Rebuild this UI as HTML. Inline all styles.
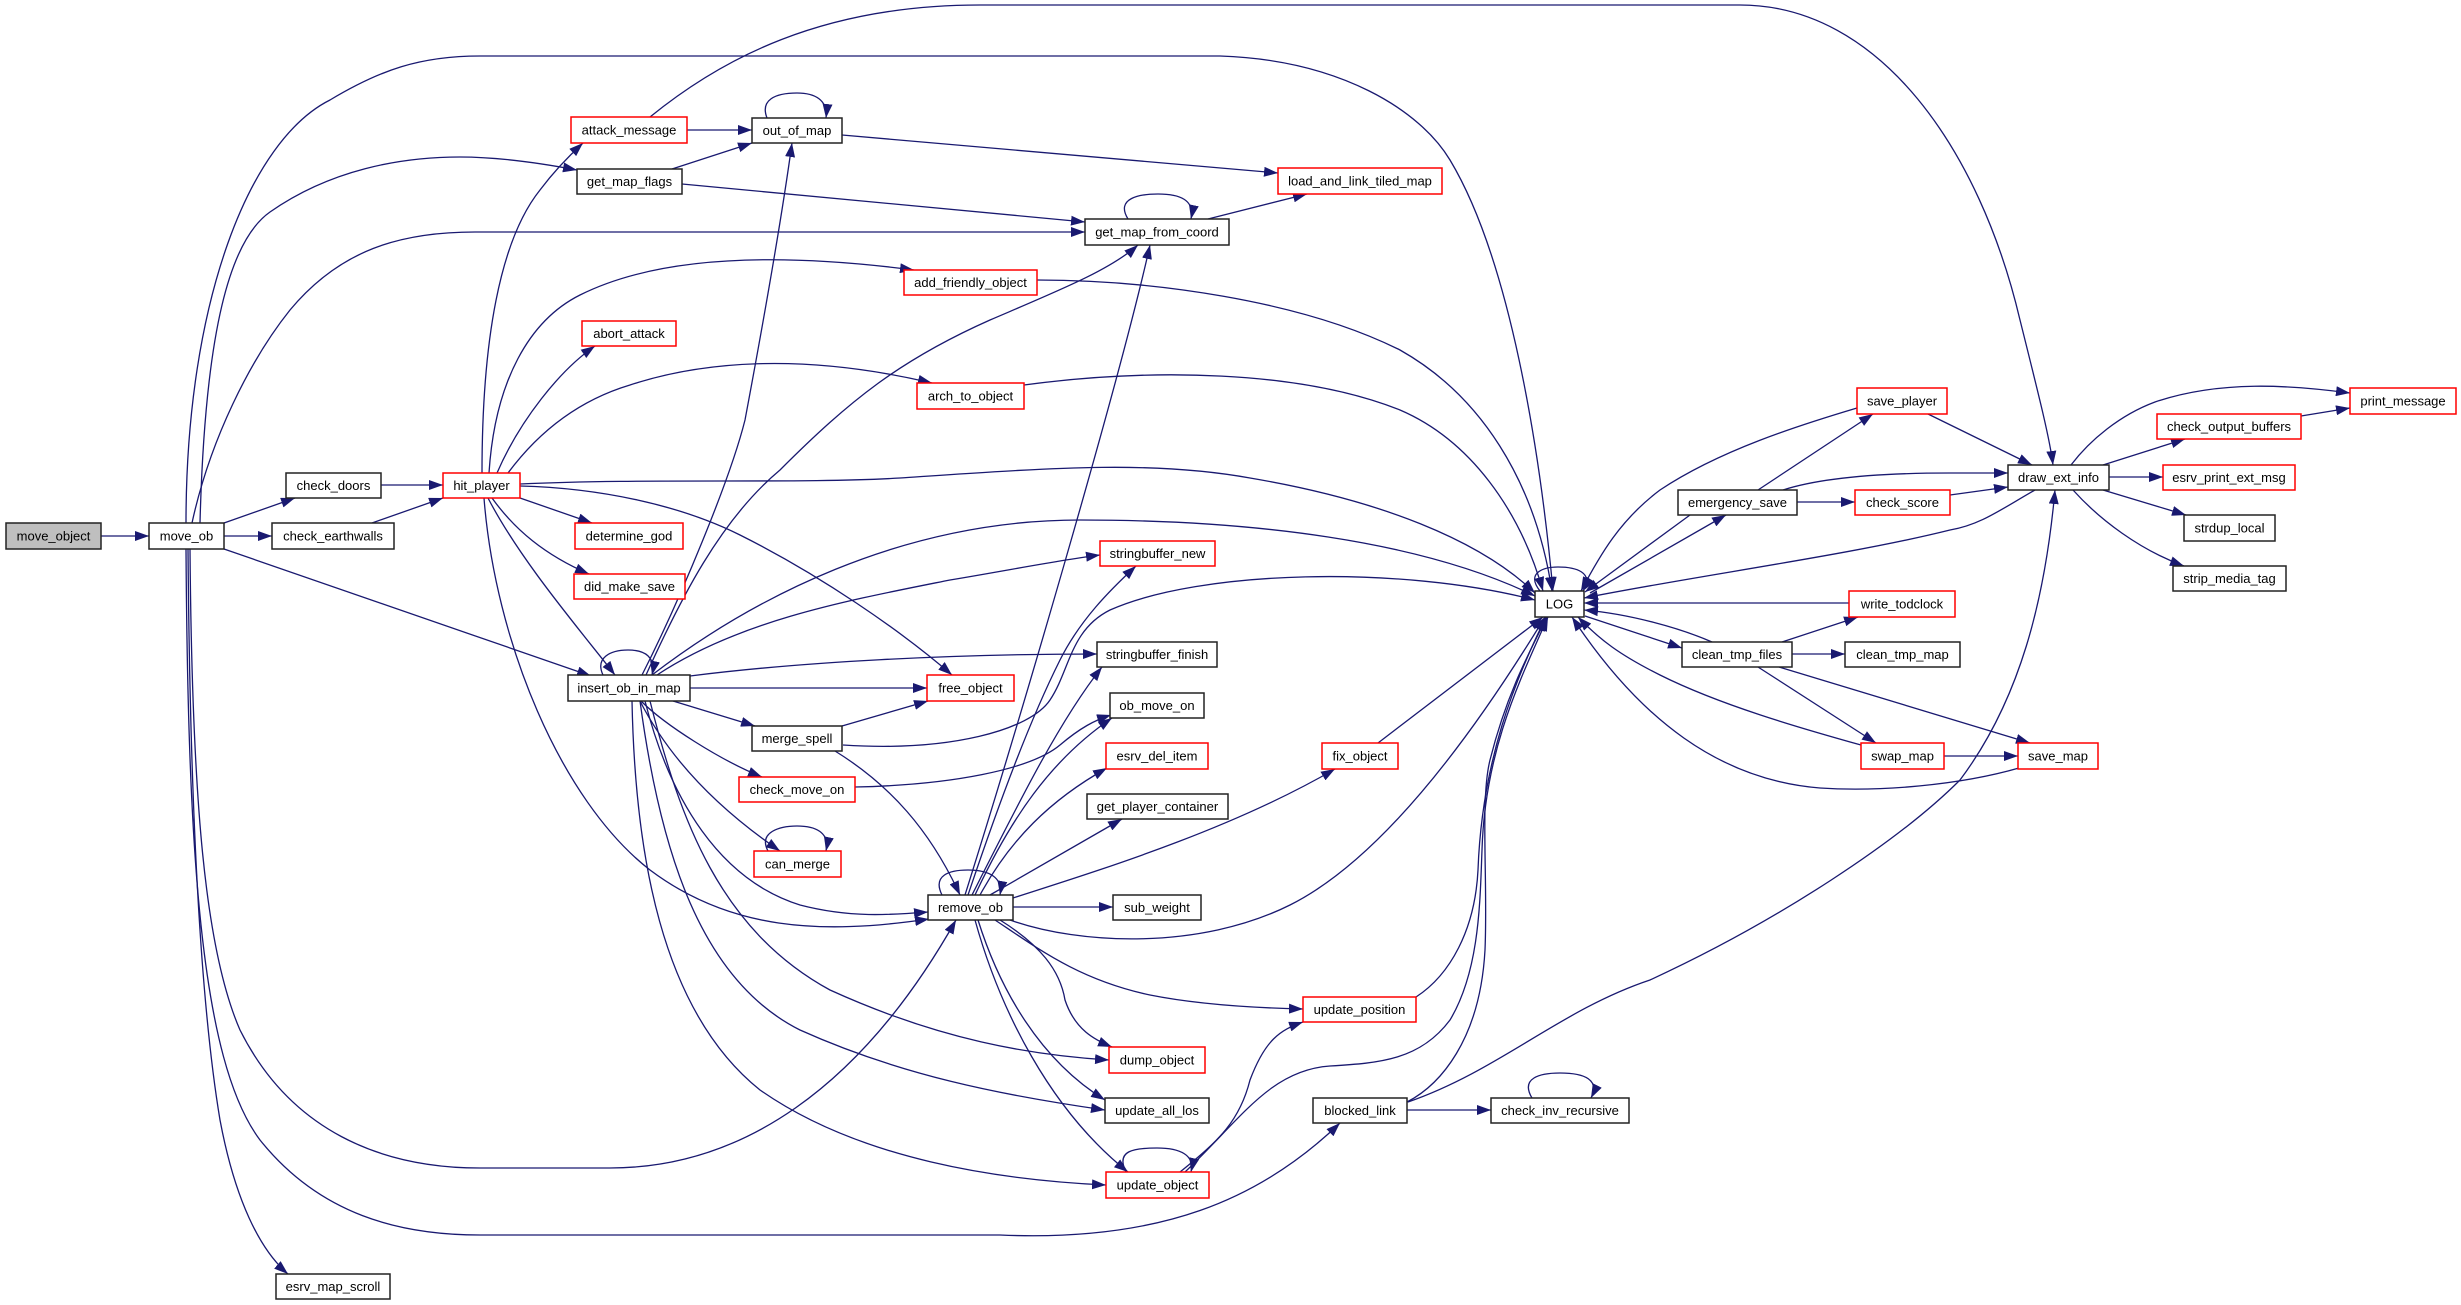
<!DOCTYPE html>
<html><head><meta charset="utf-8"><style>
html,body{margin:0;padding:0;background:#fff;}
svg{display:block;}
.e{fill:none;stroke:#191970;stroke-width:1.3;marker-end:url(#a);}
.n{fill:#fff;stroke:#222;stroke-width:1.5;}
.r{fill:#fff;stroke:#ff0000;stroke-width:1.5;}
.g{fill:#bfbfbf;stroke:#222;stroke-width:1.5;}
text{font-family:"Liberation Sans",Arial,sans-serif;font-size:13px;text-anchor:middle;fill:#000;}
</style></head><body>
<svg width="2461" height="1305" viewBox="0 0 2461 1305" xmlns="http://www.w3.org/2000/svg">
<defs>
<marker id="a" markerUnits="userSpaceOnUse" markerWidth="14" markerHeight="10" refX="14" refY="5" orient="auto">
<path d="M0,0 L14,5 L0,10 z" fill="#191970"/>
</marker>
</defs>
<g>
<path class="e" d="M101,536 L149,536"/>
<path class="e" d="M224,523 L295,498"/>
<path class="e" d="M224,536 L272,536"/>
<path class="e" d="M224,549 L591,676"/>
<path class="e" d="M188,549 C190,800 200,1000 220,1120 C235,1200 260,1250 288,1274"/>
<path class="e" d="M190,549 C192,800 205,950 240,1030 C290,1130 380,1168 480,1168 L610,1168 C740,1168 860,1090 956,920"/>
<path class="e" d="M186,549 C188,850 200,1060 260,1140 C320,1215 400,1235 480,1235 L1000,1235 C1160,1242 1260,1200 1340,1123"/>
<path class="e" d="M186,523 C186,300 250,140 330,100 C380,70 420,56 480,56 L1220,56 C1340,60 1420,110 1450,160 C1510,260 1540,450 1553,591"/>
<path class="e" d="M200,523 C205,330 230,240 270,212 C330,170 400,157 460,157 C500,157 540,163 577,170"/>
<path class="e" d="M192,523 C210,440 250,360 290,310 C340,250 400,232 475,232 L1085,232"/>
<path class="e" d="M381,485 L443,485"/>
<path class="e" d="M372,523 L443,498"/>
<path class="e" d="M482,473 C482,340 500,240 540,190 C555,170 570,155 583,143"/>
<path class="e" d="M497,473 C520,420 560,370 595,346"/>
<path class="e" d="M489,473 C495,380 530,320 580,295 C650,260 760,250 914,270"/>
<path class="e" d="M508,473 C540,430 580,400 630,385 C700,362 800,352 932,383"/>
<path class="e" d="M520,484 C650,478 800,484 900,478 C1050,468 1150,460 1250,478 C1380,500 1480,540 1535,593"/>
<path class="e" d="M520,486 C600,488 680,505 740,535 C820,575 900,630 952,675"/>
<path class="e" d="M520,498 L592,523"/>
<path class="e" d="M492,498 C515,530 545,555 589,574"/>
<path class="e" d="M488,498 C520,560 580,630 615,675"/>
<path class="e" d="M484,498 C495,640 560,800 650,870 C730,930 820,935 929,919"/>
<path class="e" d="M687,130 L752,130"/>
<path class="e" d="M650,117 C720,60 820,5 980,5 L1740,5 C1880,5 1980,150 2020,320 C2040,400 2050,440 2053,465"/>
<path class="e" d="M672,169 L752,143"/>
<path class="e" d="M682,184 L1085,222"/>
<path class="e" d="M767,118 C760,100 775,93 797,93 C815,93 828,100 826,118"/>
<path class="e" d="M842,135 L1278,173"/>
<path class="e" d="M1128,219 C1115,198 1140,194 1158,194 C1180,194 1195,200 1191,219"/>
<path class="e" d="M1208,219 L1307,194"/>
<path class="e" d="M1037,280 C1150,280 1300,300 1400,350 C1480,395 1535,480 1552,591"/>
<path class="e" d="M1024,385 C1150,368 1300,370 1400,410 C1470,440 1520,510 1543,591"/>
<path class="e" d="M603,675 C595,658 610,650 628,650 C645,650 656,657 652,675"/>
<path class="e" d="M642,675 C680,600 730,480 745,420 C760,340 780,230 792,143"/>
<path class="e" d="M646,675 C680,600 720,520 780,470 C850,400 900,360 990,320 C1060,290 1110,270 1138,245"/>
<path class="e" d="M652,675 C750,600 900,520 1080,520 C1250,520 1420,540 1535,596"/>
<path class="e" d="M657,675 C740,620 850,600 950,580 C1010,570 1060,560 1100,555"/>
<path class="e" d="M690,676 C800,662 950,654 1097,654"/>
<path class="e" d="M690,688 L927,688"/>
<path class="e" d="M673,701 L755,726"/>
<path class="e" d="M641,701 C665,725 720,760 762,777"/>
<path class="e" d="M640,701 C670,760 720,810 780,851"/>
<path class="e" d="M645,701 C670,800 720,880 800,905 C850,918 890,915 928,912"/>
<path class="e" d="M650,701 C680,820 720,930 830,990 C940,1040 1030,1055 1109,1060"/>
<path class="e" d="M640,701 C660,850 700,980 800,1030 C900,1075 1000,1095 1105,1110"/>
<path class="e" d="M632,701 C635,850 660,1010 760,1090 C860,1160 1000,1180 1106,1185"/>
<path class="e" d="M842,726 L928,701"/>
<path class="e" d="M843,745 C950,752 1030,730 1050,700 C1070,670 1070,630 1110,610 C1200,570 1400,565 1535,600"/>
<path class="e" d="M835,751 C890,785 930,830 960,895"/>
<path class="e" d="M855,787 C950,785 1030,770 1060,745 C1080,728 1095,720 1111,715"/>
<path class="e" d="M768,851 C758,832 780,826 797,826 C815,826 830,832 826,851"/>
<path class="e" d="M942,895 C932,875 950,870 968,870 C990,870 1003,878 1000,895"/>
<path class="e" d="M965,895 C1020,720 1120,380 1150,245"/>
<path class="e" d="M968,895 C1000,800 1030,720 1060,660 C1080,620 1110,590 1136,566"/>
<path class="e" d="M972,895 C1020,800 1060,720 1102,667"/>
<path class="e" d="M975,895 C1010,820 1050,760 1112,718"/>
<path class="e" d="M980,895 C1010,840 1050,800 1107,768"/>
<path class="e" d="M990,895 L1122,819"/>
<path class="e" d="M1013,898 C1100,870 1230,830 1335,769"/>
<path class="e" d="M1013,907 L1113,907"/>
<path class="e" d="M1010,920 C1080,945 1200,950 1290,905 C1380,860 1470,740 1545,617"/>
<path class="e" d="M995,920 C1040,950 1080,980 1150,995 C1200,1005 1260,1008 1303,1009"/>
<path class="e" d="M1000,920 C1040,945 1060,970 1065,1000 C1075,1030 1095,1040 1112,1047"/>
<path class="e" d="M978,920 C1000,990 1040,1060 1105,1100"/>
<path class="e" d="M975,920 C1000,1010 1050,1110 1128,1172"/>
<path class="e" d="M1126,1172 C1115,1150 1135,1148 1157,1148 C1180,1148 1195,1155 1191,1172"/>
<path class="e" d="M1180,1172 C1220,1140 1240,1120 1250,1080 C1265,1040 1280,1030 1303,1022"/>
<path class="e" d="M1185,1172 C1240,1120 1270,1070 1330,1066 C1380,1063 1420,1060 1450,1020 C1480,970 1480,900 1482,850 C1485,750 1520,680 1548,617"/>
<path class="e" d="M1416,997 C1450,975 1475,930 1478,870 C1482,760 1515,680 1546,617"/>
<path class="e" d="M1407,1102 C1440,1085 1480,1040 1485,950 C1488,880 1480,800 1490,760 C1505,700 1525,660 1547,617"/>
<path class="e" d="M1407,1110 L1491,1110"/>
<path class="e" d="M1408,1102 C1500,1070 1560,1010 1650,980 C1780,920 1900,840 1960,780 C2020,700 2045,600 2055,490"/>
<path class="e" d="M1532,1098 C1520,1078 1540,1073 1560,1073 C1585,1073 1600,1080 1591,1098"/>
<path class="e" d="M1378,743 L1543,617"/>
<path class="e" d="M1540,591 C1525,572 1545,567 1558,567 C1575,567 1595,572 1583,591"/>
<path class="e" d="M1590,593 L1726,515"/>
<path class="e" d="M1690,515 L1585,592"/>
<path class="e" d="M1585,616 L1682,648"/>
<path class="e" d="M1712,642 C1680,628 1630,614 1584,610"/>
<path class="e" d="M1857,408 C1800,425 1720,450 1660,490 C1620,520 1600,555 1581,591"/>
<path class="e" d="M1758,490 L1873,414"/>
<path class="e" d="M1783,490 C1820,478 1880,473 1950,473 C1980,473 1995,473 2008,473"/>
<path class="e" d="M1797,502 L1855,502"/>
<path class="e" d="M1950,495 L2008,487"/>
<path class="e" d="M1928,414 L2032,465"/>
<path class="e" d="M2035,490 C2000,510 1980,525 1950,530 C1850,555 1700,575 1584,598"/>
<path class="e" d="M1849,603 L1584,603"/>
<path class="e" d="M1782,642 L1858,617"/>
<path class="e" d="M1792,654 L1845,654"/>
<path class="e" d="M1758,667 L1876,743"/>
<path class="e" d="M1779,667 L2030,743"/>
<path class="e" d="M1944,756 L2018,756"/>
<path class="e" d="M1861,745 C1800,728 1720,705 1660,675 C1620,655 1600,640 1578,617"/>
<path class="e" d="M2019,768 C1960,785 1880,792 1820,788 C1720,780 1640,720 1572,617"/>
<path class="e" d="M2071,465 C2090,440 2120,415 2155,402 C2220,380 2290,385 2350,393"/>
<path class="e" d="M2103,465 L2185,439"/>
<path class="e" d="M2301,416 L2350,408"/>
<path class="e" d="M2109,477 L2163,477"/>
<path class="e" d="M2103,490 L2186,515"/>
<path class="e" d="M2073,490 C2100,520 2140,550 2184,566"/>
</g>
<g>
<rect class="g" x="6" y="523" width="95" height="26"/><text x="53.5" y="540.5">move_object</text>
<rect class="n" x="149" y="523" width="75" height="26"/><text x="186.5" y="540.5">move_ob</text>
<rect class="n" x="286" y="473" width="95" height="25"/><text x="333.5" y="490">check_doors</text>
<rect class="n" x="272" y="523" width="122" height="26"/><text x="333" y="540.5">check_earthwalls</text>
<rect class="r" x="443" y="473" width="77" height="25"/><text x="481.5" y="490">hit_player</text>
<rect class="r" x="575" y="523" width="108" height="26"/><text x="629" y="540.5">determine_god</text>
<rect class="r" x="574" y="574" width="111" height="25"/><text x="629.5" y="591">did_make_save</text>
<rect class="n" x="568" y="675" width="122" height="26"/><text x="629" y="692.5">insert_ob_in_map</text>
<rect class="r" x="571" y="117" width="116" height="26"/><text x="629" y="134.5">attack_message</text>
<rect class="n" x="577" y="169" width="105" height="25"/><text x="629.5" y="186">get_map_flags</text>
<rect class="r" x="582" y="321" width="94" height="25"/><text x="629" y="338">abort_attack</text>
<rect class="n" x="752" y="118" width="90" height="25"/><text x="797" y="135">out_of_map</text>
<rect class="n" x="1085" y="219" width="144" height="26"/><text x="1157" y="236.5">get_map_from_coord</text>
<rect class="r" x="1278" y="168" width="164" height="26"/><text x="1360" y="185.5">load_and_link_tiled_map</text>
<rect class="r" x="904" y="270" width="133" height="25"/><text x="970.5" y="287">add_friendly_object</text>
<rect class="r" x="917" y="383" width="107" height="26"/><text x="970.5" y="400.5">arch_to_object</text>
<rect class="r" x="1100" y="541" width="115" height="25"/><text x="1157.5" y="558">stringbuffer_new</text>
<rect class="n" x="1097" y="642" width="120" height="25"/><text x="1157" y="659">stringbuffer_finish</text>
<rect class="r" x="927" y="675" width="87" height="26"/><text x="970.5" y="692.5">free_object</text>
<rect class="n" x="1110" y="693" width="94" height="25"/><text x="1157" y="710">ob_move_on</text>
<rect class="n" x="752" y="726" width="90" height="25"/><text x="797" y="743">merge_spell</text>
<rect class="r" x="1106" y="743" width="102" height="26"/><text x="1157" y="760.5">esrv_del_item</text>
<rect class="r" x="739" y="777" width="116" height="25"/><text x="797" y="794">check_move_on</text>
<rect class="n" x="1087" y="794" width="141" height="25"/><text x="1157.5" y="811">get_player_container</text>
<rect class="r" x="754" y="851" width="87" height="26"/><text x="797.5" y="868.5">can_merge</text>
<rect class="n" x="928" y="895" width="85" height="25"/><text x="970.5" y="912">remove_ob</text>
<rect class="n" x="1113" y="895" width="88" height="25"/><text x="1157" y="912">sub_weight</text>
<rect class="r" x="1109" y="1047" width="96" height="26"/><text x="1157" y="1064.5">dump_object</text>
<rect class="n" x="1105" y="1098" width="104" height="25"/><text x="1157" y="1115">update_all_los</text>
<rect class="r" x="1106" y="1172" width="103" height="26"/><text x="1157.5" y="1189.5">update_object</text>
<rect class="n" x="276" y="1274" width="114" height="25"/><text x="333" y="1291">esrv_map_scroll</text>
<rect class="n" x="1535" y="591" width="49" height="26"/><text x="1559.5" y="608.5">LOG</text>
<rect class="r" x="1322" y="743" width="76" height="26"/><text x="1360" y="760.5">fix_object</text>
<rect class="r" x="1303" y="997" width="113" height="25"/><text x="1359.5" y="1014">update_position</text>
<rect class="n" x="1313" y="1098" width="94" height="25"/><text x="1360" y="1115">blocked_link</text>
<rect class="n" x="1491" y="1098" width="138" height="25"/><text x="1560" y="1115">check_inv_recursive</text>
<rect class="n" x="1678" y="490" width="119" height="25"/><text x="1737.5" y="507">emergency_save</text>
<rect class="n" x="1682" y="642" width="110" height="25"/><text x="1737" y="659">clean_tmp_files</text>
<rect class="r" x="1857" y="388" width="90" height="26"/><text x="1902" y="405.5">save_player</text>
<rect class="r" x="1855" y="490" width="95" height="25"/><text x="1902.5" y="507">check_score</text>
<rect class="r" x="1849" y="591" width="106" height="26"/><text x="1902" y="608.5">write_todclock</text>
<rect class="n" x="1845" y="642" width="115" height="25"/><text x="1902.5" y="659">clean_tmp_map</text>
<rect class="r" x="1861" y="743" width="83" height="26"/><text x="1902.5" y="760.5">swap_map</text>
<rect class="r" x="2018" y="743" width="80" height="26"/><text x="2058" y="760.5">save_map</text>
<rect class="n" x="2008" y="465" width="101" height="25"/><text x="2058.5" y="482">draw_ext_info</text>
<rect class="r" x="2350" y="388" width="106" height="26"/><text x="2403" y="405.5">print_message</text>
<rect class="r" x="2157" y="414" width="144" height="25"/><text x="2229" y="431">check_output_buffers</text>
<rect class="r" x="2163" y="465" width="132" height="25"/><text x="2229" y="482">esrv_print_ext_msg</text>
<rect class="n" x="2184" y="515" width="91" height="26"/><text x="2229.5" y="532.5">strdup_local</text>
<rect class="n" x="2173" y="566" width="113" height="25"/><text x="2229.5" y="583">strip_media_tag</text>
</g>
</svg>
</body></html>
